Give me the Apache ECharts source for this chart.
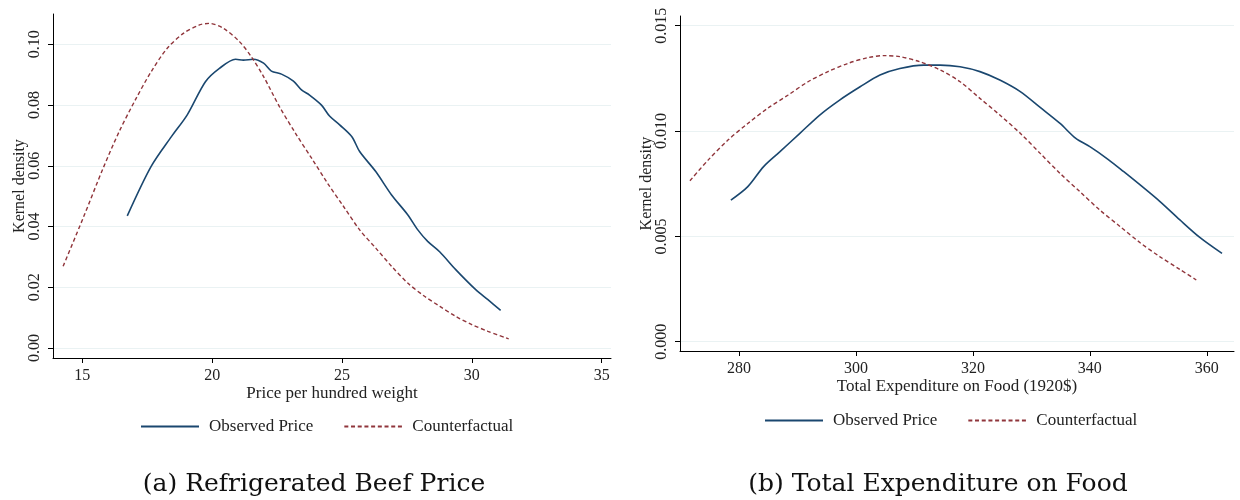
<!DOCTYPE html>
<html>
<head>
<meta charset="utf-8">
<script src="https://cdn.jsdelivr.net/npm/echarts@6/dist/echarts.min.js"></script>
<style>
  html, body { margin: 0; padding: 0; background: #ffffff; }
  #chart { width: 1240px; height: 500px; }
</style>
</head>
<body>
<div id="chart"></div>
<script>
// Panel (a): price per hundred weight vs. kernel density
const beefObservedX = [16.73, 17.65, 18.43, 19.04, 19.74, 20.28, 20.90, 21.20, 21.59, 21.98, 22.28, 22.67, 23.13, 23.44, 23.75, 24.21, 24.52, 24.91, 25.38, 25.68, 26.30, 26.91, 27.53, 27.92, 28.30, 28.77, 29.38, 30.15, 30.62, 31.11];
const beefObservedY = [0.0435, 0.0598, 0.0696, 0.0768, 0.0877, 0.0921, 0.0951, 0.0948, 0.0951, 0.0938, 0.0912, 0.0902, 0.0879, 0.0850, 0.0833, 0.0800, 0.0764, 0.0735, 0.0696, 0.0647, 0.0581, 0.0504, 0.0439, 0.0389, 0.0351, 0.0316, 0.0258, 0.0192, 0.0159, 0.0124];
const beefCounterX = [14.26, 15.03, 15.80, 16.42, 17.04, 17.65, 18.27, 18.89, 19.51, 19.89, 20.43, 21.05, 21.51, 21.98, 22.59, 23.21, 23.83, 24.44, 25.06, 25.68, 26.30, 26.91, 27.53, 28.15, 28.77, 29.38, 30.00, 30.62, 31.42];
const beefCounterY = [0.0269, 0.0428, 0.0592, 0.0713, 0.0817, 0.0910, 0.0987, 0.1036, 0.1064, 0.1069, 0.1053, 0.1009, 0.0959, 0.0894, 0.0795, 0.0707, 0.0625, 0.0543, 0.0466, 0.0389, 0.0329, 0.0269, 0.0214, 0.0172, 0.0137, 0.0104, 0.0077, 0.0055, 0.0030];
const beefXTicks = [15, 20, 25, 30, 35];
const beefYTicks = [0, 0.02, 0.04, 0.06, 0.08, 0.10];

// Panel (b): total food expenditure vs. kernel density
const foodObservedX = [278.6, 281.5, 284.2, 287.0, 290.4, 293.8, 297.2, 300.7, 304.1, 307.5, 311.6, 314.4, 317.8, 321.2, 324.6, 328.1, 331.5, 334.9, 337.6, 340.0, 343.1, 345.8, 348.6, 352.0, 355.4, 358.8, 362.6];
const foodObservedY = [0.00672, 0.00736, 0.00831, 0.00902, 0.00989, 0.01076, 0.01147, 0.01210, 0.01266, 0.01297, 0.01313, 0.01313, 0.01305, 0.01282, 0.01242, 0.01187, 0.01112, 0.01036, 0.00965, 0.00926, 0.00866, 0.00807, 0.00744, 0.00665, 0.00578, 0.00495, 0.00419];
const foodCounterX = [271.6, 274.7, 278.1, 281.5, 284.9, 288.4, 291.8, 295.2, 298.6, 302.0, 304.8, 307.5, 310.9, 314.4, 317.8, 321.2, 324.6, 328.1, 331.5, 334.9, 338.3, 341.7, 345.2, 348.6, 352.0, 355.4, 358.2];
const foodCounterY = [0.00764, 0.00862, 0.00957, 0.01036, 0.01108, 0.01171, 0.01234, 0.01282, 0.01321, 0.01348, 0.01358, 0.01353, 0.01329, 0.01290, 0.01234, 0.01155, 0.01076, 0.00989, 0.00894, 0.00799, 0.00712, 0.00625, 0.00546, 0.00470, 0.00403, 0.00343, 0.00293];
const foodXTicks = [280, 300, 320, 340, 360];
const foodYTicks = [0, 0.005, 0.010, 0.015];

const seriesNames = ['Observed Price', 'Counterfactual'];
const captions = ['(a) Refrigerated Beef Price', '(b) Total Expenditure on Food'];
const xTitles = ['Price per hundred weight', 'Total Expenditure on Food (1920$)'];
const yTitle = 'Kernel density';

const NAVY = '#1a476f';
const MAROON = '#90353b';
const FONT = '"Liberation Serif", "DejaVu Serif", serif';
const CAPTION_FONT = '"DejaVu Serif", "Liberation Serif", serif';
const TEXT = '#222222';

function pairs(xs, ys) { return xs.map((x, i) => [x, ys[i]]); }

function xAxis(gridIndex, min, max, ticks, title) {
  return {
    type: 'value', gridIndex, min, max,
    name: title, nameLocation: 'middle', nameGap: 27, nameMoveOverlap: false,
    nameTextStyle: { fontFamily: FONT, fontSize: 17, color: TEXT },
    axisLine: { show: true, onZero: false, lineStyle: { color: '#000', width: 1 } },
    axisTick: { show: true, length: 5, customValues: ticks, lineStyle: { color: '#000' } },
    axisLabel: { customValues: ticks, margin: 10, fontFamily: FONT, fontSize: 16, color: TEXT },
    splitLine: { show: false }
  };
}

function yAxis(gridIndex, min, max, ticks, digits) {
  return {
    type: 'value', gridIndex, min, max,
    name: yTitle, nameLocation: 'middle', nameGap: 25, nameRotate: 90, nameMoveOverlap: false,
    nameTextStyle: { fontFamily: FONT, fontSize: 16, color: TEXT },
    axisLine: { show: true, onZero: false, lineStyle: { color: '#000', width: 1 } },
    axisTick: { show: true, length: 5, customValues: ticks, lineStyle: { color: '#000' } },
    axisLabel: {
      customValues: ticks, rotate: 90, margin: 10,
      fontFamily: FONT, fontSize: 16, color: TEXT,
      formatter: v => v.toFixed(digits)
    },
    splitLine: { show: true, lineStyle: { color: '#eaf2f3', width: 1 } }
  };
}

function curve(name, data, idx, dashed) {
  return {
    name, type: 'line', data,
    xAxisIndex: idx, yAxisIndex: idx,
    showSymbol: false, symbol: 'none', smooth: 0.3,
    lineStyle: dashed
      ? { color: MAROON, width: 1.4, type: [4, 2.7] }
      : { color: NAVY, width: 1.6, type: 'solid' },
    itemStyle: { color: dashed ? MAROON : NAVY },
    animation: false
  };
}

// Legend keys show only the line sample (marker fill made transparent)
function legend(left, top) {
  return {
    data: seriesNames, left, top, orient: 'horizontal', padding: 0,
    itemWidth: 58, itemHeight: 10, itemGap: 30, selectedMode: false,
    itemStyle: { color: 'rgba(0,0,0,0)', borderColor: 'rgba(0,0,0,0)', borderWidth: 0 },
    textStyle: { fontFamily: FONT, fontSize: 17, color: TEXT, padding: [0, 0, 0, 5] }
  };
}

const chart = echarts.init(document.getElementById('chart'), null, { renderer: 'canvas' });
chart.setOption({
  backgroundColor: '#ffffff',
  animation: false,
  grid: [
    { left: 53, right: 629, top: 14, bottom: 142, containLabel: false },
    { left: 680, right: 6, top: 16, bottom: 149, containLabel: false }
  ],
  xAxis: [
    xAxis(0, 13.87, 35.36, beefXTicks, xTitles[0]),
    xAxis(1, 269.9, 364.65, foodXTicks, xTitles[1])
  ],
  yAxis: [
    yAxis(0, -0.0033, 0.110, beefYTicks, 2),
    yAxis(1, -0.00044, 0.01546, foodYTicks, 3)
  ],
  legend: [legend(140, 418), legend(764, 412)],
  title: [
    { text: captions[0], left: 309, top: 467, textAlign: 'center',
      textStyle: { fontFamily: CAPTION_FONT, fontSize: 25, fontWeight: 'normal', color: '#111' } },
    { text: captions[1], left: 933, top: 467, textAlign: 'center',
      textStyle: { fontFamily: CAPTION_FONT, fontSize: 25, fontWeight: 'normal', color: '#111' } }
  ],
  series: [
    curve(seriesNames[0], pairs(beefObservedX, beefObservedY), 0, false),
    curve(seriesNames[1], pairs(beefCounterX, beefCounterY), 0, true),
    curve(seriesNames[0], pairs(foodObservedX, foodObservedY), 1, false),
    curve(seriesNames[1], pairs(foodCounterX, foodCounterY), 1, true)
  ]
});
</script>
</body>
</html>
